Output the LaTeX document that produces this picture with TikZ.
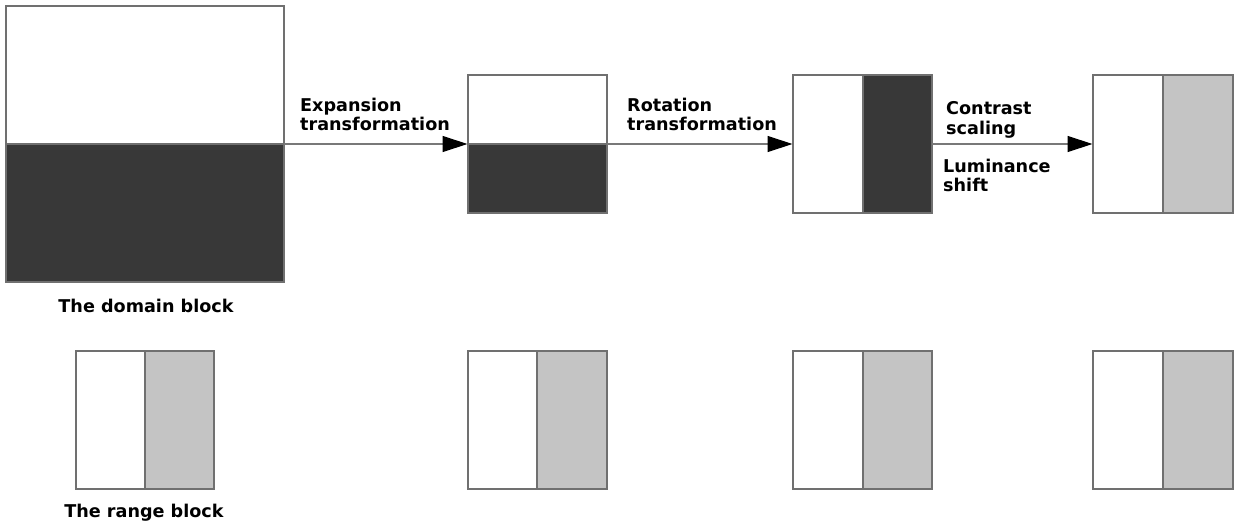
\documentclass[tikz,border=0pt]{standalone}
\usepackage{fontspec}
\setmainfont{DejaVu Sans}
\usetikzlibrary{arrows.meta,fit}
\definecolor{dark}{RGB}{56,56,56}
\definecolor{lgray}{RGB}{196,196,196}
\definecolor{frame}{RGB}{112,112,112}
\definecolor{linec}{RGB}{120,120,120}
\begin{document}
\begin{tikzpicture}[x=1pt,y=-1pt,
  part/.style={draw=frame, line width=1.3pt, inner sep=0pt, outer sep=0pt},
  whole/.style={inner sep=0pt, outer sep=0pt},
  conn/.style={draw=linec, line width=1.2pt, -{Triangle[length=25pt,width=16pt,fill=black,color=black]}, shorten >=0.5pt},
  lbl/.style={anchor=base west, inner sep=0pt, font=\bfseries\fontsize{17.6}{19}\selectfont},
  blocklbl/.style={anchor=base, inner sep=0pt, font=\bfseries\fontsize{17.6}{19}\selectfont}]
\useasboundingbox (0,0) rectangle (1241,525);

% domain block
\node[part, fill=white, fit={(6,6) (284,144)}] (domT) {};
\node[part, fill=dark, fit={(6,144) (284,282)}] (domB) {};
\node[whole, fit={(6,6) (284,282)}] (dom) {};
\node[blocklbl] (domL) at (146,312) {The domain block};

% block 2
\node[part, fill=white, fit={(468,75) (607,144)}] (b2T) {};
\node[part, fill=dark, fit={(468,144) (607,213)}] (b2B) {};
\node[whole, fit={(468,75) (607,213)}] (b2) {};

% block 3
\node[part, fill=white, fit={(793,75) (863,213)}] (b3L) {};
\node[part, fill=dark, fit={(863,75) (932,213)}] (b3R) {};
\node[whole, fit={(793,75) (932,213)}] (b3) {};

% block 4
\node[part, fill=white, fit={(1093,75) (1163,213)}] (b4L) {};
\node[part, fill=lgray, fit={(1163,75) (1233,213)}] (b4R) {};
\node[whole, fit={(1093,75) (1233,213)}] (b4) {};

% range blocks
\node[part, fill=white, fit={(76,351) (145,489)}] (r1L) {};
\node[part, fill=lgray, fit={(145,351) (214,489)}] (r1R) {};
\node[blocklbl] (rngL) at (144,517) {The range block};

\node[part, fill=white, fit={(468,351) (537,489)}] (r2L) {};
\node[part, fill=lgray, fit={(537,351) (607,489)}] (r2R) {};

\node[part, fill=white, fit={(793,351) (863,489)}] (r3L) {};
\node[part, fill=lgray, fit={(863,351) (932,489)}] (r3R) {};

\node[part, fill=white, fit={(1093,351) (1163,489)}] (r4L) {};
\node[part, fill=lgray, fit={(1163,351) (1233,489)}] (r4R) {};

% connectors
\draw[conn] (dom.east) -- (b2.west);
\draw[conn] (b2.east) -- (b3.west);
\draw[conn] (b3.east) -- (b4.west);

% labels
\node[lbl] (t1a) at (300,111) {Expansion};
\node[lbl] (t1b) at (300,130) {transformation};
\node[lbl] (t2a) at (627,111) {Rotation};
\node[lbl] (t2b) at (627,130) {transformation};
\node[lbl] (t3a) at (946,114) {Contrast};
\node[lbl] (t3b) at (946,134) {scaling};
\node[lbl] (t3c) at (943,172) {Luminance};
\node[lbl] (t3d) at (943,191) {shift};
\end{tikzpicture}
\end{document}
